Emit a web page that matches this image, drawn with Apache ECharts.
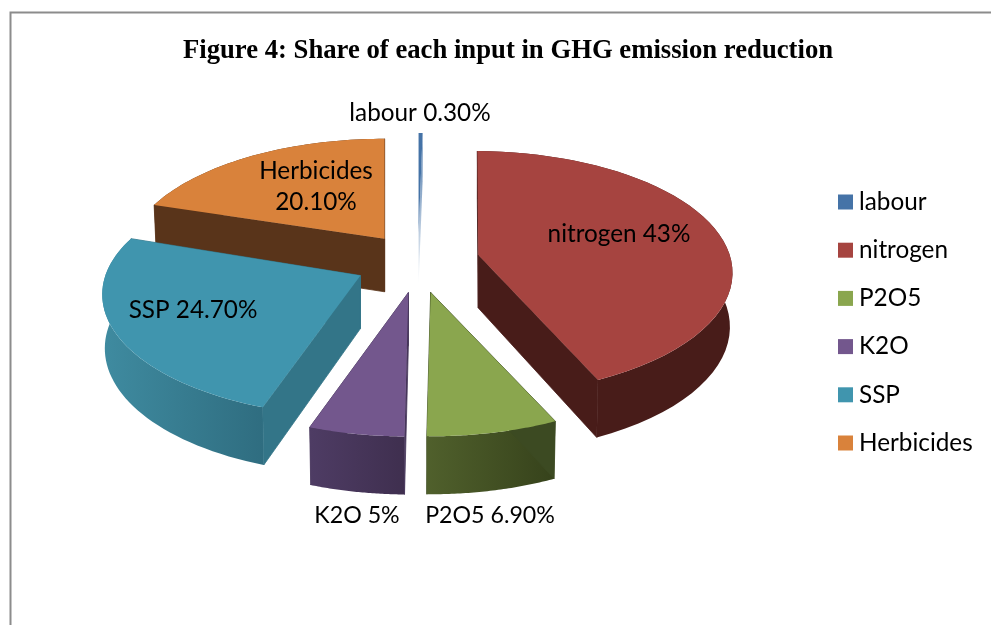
<!DOCTYPE html>
<html>
<head>
<meta charset="utf-8">
<style>html,body{margin:0;padding:0;background:#fff}#c{width:991px;height:625px}</style>
<script src="https://cdn.jsdelivr.net/npm/echarts@6/dist/echarts.min.js"></script>
</head>
<body>
<div id="c"></div>
<script>
// ---- data ----
const titleText = 'Figure 4: Share of each input in GHG emission reduction';
const categories = ['labour', 'nitrogen', 'P2O5', 'K2O', 'SSP', 'Herbicides'];
const shares = [0.3, 43, 6.9, 5, 24.7, 20.1];
const shareLabels = ['0.30%', '43%', '6.90%', '5%', '24.70%', '20.10%'];

// ---- style ----
const topColors = ['#4573a7', '#a64440', '#8aa64e', '#73578d', '#4095ae', '#d9823b'];
const wallColors = [
  ['#4573a7', '#ffffff'], ['#481c19', '#481c19'], ['#50602c', '#36421b'],
  ['#4e3c64', '#3f2f4f'], ['#3f8ba0', '#2f6d80'], ['#59341a', '#59341a']
];
const cutColors = ['#4573a7', '#481c19', '#3c4a22', '#46365a', '#337588', '#59341a'];
const drawOrder = [1, 3, 6, 5, 4, 2];   // z per slice
const labelSpots = [
  [420, 113], [619, 234], [490, 516], [357, 516], [193, 310], [316, 187]
];
const labelSizes = [24.3, 24.3, 23.2, 23.2, 24.3, 24.3];
const sliceNudge = [[-1, 0], [-4.5, -6], [-0.5, 0], [-0.5, 0], [-4, -4], [1, 0]];
const apexNudge = [[0, 0], [5, 4], [0, 0], [0, 0], [-1, 3], [0, 0]];

// ---- projection of the tilted pie ----
const CX = 419, CY = 263, RAD = 255, TILT = 118, PERSP = 0.18;
const EXPLODE = 60, EXPLODE_Y = 0.5, DEPTH = 53, DEPTH_F = 5, SHRINK = 0.99;
const total = shares.reduce((a, b) => a + b, 0);
function project(a, rad, ox, oy) {
  const u = Math.sin(a) * rad, v = -Math.cos(a) * rad;
  const p = 1 / (1 - PERSP * v);
  return { x: RAD * u * p, y: TILT * v * p, v: v, ox: ox, oy: oy };
}
const upper = q => [CX + q.ox + q.x, CY + q.oy + q.y];
const lower = q => [CX + q.ox + q.x * SHRINK, CY + q.oy + q.y + DEPTH + DEPTH_F * q.v];

function sliceItem(i, api) {
  const value = api.value(0);
  let before = 0;
  for (let k = 0; k < i; k++) before += shares[k];
  const a0 = before / total * Math.PI * 2;
  const a1 = a0 + value / total * Math.PI * 2;
  const mid = (a0 + a1) / 2;
  const ox = Math.sin(mid) * EXPLODE + sliceNudge[i][0];
  const oy = -Math.cos(mid) * EXPLODE * EXPLODE_Y + sliceNudge[i][1];
  const steps = 48, arc = [];
  for (let s = 0; s <= steps; s++) {
    arc.push(project(a0 + (a1 - a0) * s / steps, 1, ox, oy));
  }
  const apex = project(0, 0, ox + apexNudge[i][0], oy + apexNudge[i][1]);
  const first = arc[0], last = arc[steps];
  const grad = new echarts.graphic.LinearGradient(
    0, 0, i === 0 ? 0 : 1, i === 0 ? 1 : 0,
    [{ offset: 0, color: wallColors[i][0] }, { offset: 1, color: wallColors[i][1] }]
  );
  const poly = (pts, fill, seam) => ({
    type: 'polygon', shape: { points: pts },
    style: { fill: fill, stroke: seam || null, lineWidth: seam ? 0.8 : 0 }
  });
  const cutFill = i === 0 ? grad : cutColors[i];
  const seam = i === 0 ? null : cutColors[i];
  const outer = arc.map(upper).concat(arc.slice().reverse().map(lower));
  const children = [
    poly([upper(apex), upper(last), lower(last), lower(apex)], cutFill, seam)
  ];
  if (i !== 0) children.push(poly(outer, grad));
  children.push(poly([upper(apex), upper(first), lower(first), lower(apex)], cutFill, seam));
  children.push(poly([upper(apex)].concat(arc.map(upper)), topColors[i]));
  return { type: 'group', children: children };
}

const labelElements = categories.map((name, i) => ({
  type: 'text', z: 100,
  style: {
    x: labelSpots[i][0], y: labelSpots[i][1],
    text: i === 5 ? name + '\n' + shareLabels[i] : name + ' ' + shareLabels[i],
    font: labelSizes[i] + 'px Lato, Carlito, sans-serif', fill: '#000',
    align: 'center', verticalAlign: 'middle', lineHeight: 31
  }
}));

const chart = echarts.init(document.getElementById('c'), null, { renderer: 'canvas' });
chart.setOption({
  animation: false,
  backgroundColor: '#ffffff',
  title: {
    text: titleText, left: 503, top: 33, textAlign: 'center',
    textStyle: { fontFamily: '"Liberation Serif", serif', fontWeight: 'bold', fontSize: 26.7, color: '#000' }
  },
  legend: {
    orient: 'vertical', left: 838, top: 190, itemWidth: 15, itemHeight: 15, itemGap: 24.2,
    icon: 'rect', padding: 0, selectedMode: false,
    data: categories,
    textStyle: { fontFamily: 'Lato, Carlito, sans-serif', fontSize: 24.3, color: '#000', padding: [0, 0, 0, 1], lineHeight: 22.2 }
  },
  graphic: {
    elements: [
      { type: 'polyline', silent: true, shape: { points: [[10.5, 625], [10.5, 12.5], [991, 12.5]] },
        style: { stroke: '#8c8c8c', lineWidth: 2, fill: null } }
    ].concat(labelElements)
  },
  series: categories.map((name, i) => ({
    type: 'custom', name: name, coordinateSystem: 'none', silent: true,
    z: drawOrder[i] + 2,
    itemStyle: { color: topColors[i] },
    data: [{ name: name, value: [shares[i]] }],
    renderItem: (params, api) => sliceItem(i, api)
  }))
});
</script>
</body>
</html>
